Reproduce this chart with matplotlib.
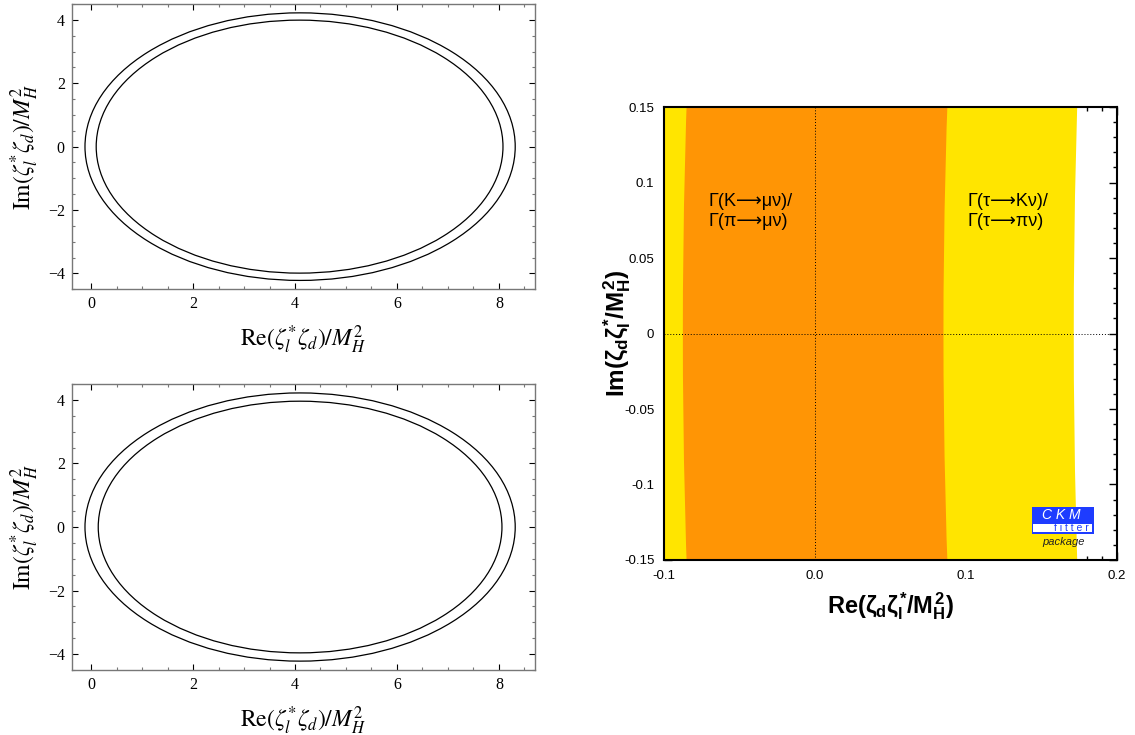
import matplotlib
matplotlib.use('Agg')
import matplotlib.pyplot as plt
from matplotlib.patches import Circle, Annulus, Rectangle
from matplotlib.ticker import MultipleLocator

# ---- left panels: boundary circles in the (Re, Im) plane ----
top_centers = [4.10, 4.09]
top_radii = [4.22, 3.99]
bottom_centers = [4.10, 4.10]
bottom_radii = [4.22, 3.96]

left_xticks = [0, 2, 4, 6, 8]
left_yticks = [-4, -2, 0, 2, 4]

# ---- right panel: allowed bands (annuli centred on the real axis) ----
band_labels = ['Γ(K⟶μν)/\nΓ(π⟶μν)', 'Γ(τ⟶Kν)/\nΓ(τ⟶πν)']
band_centers = [4.5, 5.1]
band_re_min = [-0.0875, -0.14]
band_re_max = [0.0851, 0.1714]
band_colors = ['#ff9505', '#ffe500']
label_x = [-0.0702, 0.1007]
label_y = [0.0807, 0.0807]

right_xticks = [-0.1, 0.0, 0.1, 0.2]
right_xticklabels = ['-0.1', '0.0', '0.1', '0.2']
right_yticks = [-0.15, -0.1, -0.05, 0, 0.05, 0.1, 0.15]
right_yticklabels = ['-0.15', '-0.1', '-0.05', '0', '0.05', '0.1', '0.15']

plt.rcParams['font.family'] = ['Liberation Serif', 'DejaVu Serif']
plt.rcParams['mathtext.rm'] = 'Liberation Sans:bold'
plt.rcParams['mathtext.it'] = 'Liberation Sans:bold'
plt.rcParams['mathtext.bf'] = 'Liberation Sans:bold'
plt.rcParams['mathtext.sf'] = 'Liberation Sans:bold'

fig = plt.figure(figsize=(11.35, 7.35), dpi=100)

ax_top = fig.add_axes([0.0632, 0.6064, 0.4078, 0.3882])
ax_bot = fig.add_axes([0.0632, 0.0884, 0.4078, 0.3891])
ax_r = fig.add_axes([0.585, 0.2381, 0.3991, 0.6163])


def left_panel(ax, centers, radii):
    for c, r in zip(centers, radii):
        ax.add_patch(Circle((c, 0), r, fill=False, ec='black', lw=0.9))
    ax.set_xlim(-0.38, 8.7)
    ax.set_ylim(-4.5, 4.5)
    ax.set_xticks(left_xticks)
    ax.set_yticks(left_yticks)
    ax.xaxis.set_minor_locator(MultipleLocator(0.5))
    ax.yaxis.set_minor_locator(MultipleLocator(0.5))
    ax.tick_params(which='both', direction='in', top=True, right=True,
                   labelsize=11.5, pad=5, width=0.8)
    ax.tick_params(which='major', length=4.5, color='black')
    ax.tick_params(which='minor', length=2.3, color='#777777')
    for sp in ax.spines.values():
        sp.set_color('#777777')
        sp.set_linewidth(1.0)
    ax.set_xlabel(r'$\mathrm{Re}(\zeta_l^{*}\zeta_d)/M_H^2$',
                  math_fontfamily='stix', fontsize=17)
    ax.set_ylabel(r'$\mathrm{Im}(\zeta_l^{*}\zeta_d)/M_H^2$',
                  math_fontfamily='stix', fontsize=17)
    ax.xaxis.set_label_coords(0.5, -0.12)
    ax.yaxis.set_label_coords(-0.066, 0.5)


left_panel(ax_top, top_centers, top_radii)
left_panel(ax_bot, bottom_centers, bottom_radii)

# ---- right panel ----
for i in reversed(range(len(band_centers))):
    c = band_centers[i]
    r_out = c - band_re_min[i]
    r_in = c - band_re_max[i]
    ax_r.add_patch(Annulus((c, 0), r_out, r_out - r_in,
                           facecolor=band_colors[i], edgecolor='none',
                           zorder=1 + (len(band_centers) - i)))

for txt, x, y in zip(band_labels, label_x, label_y):
    ax_r.text(x, y, txt, ha='left', va='center', fontsize=13,
              family=['Liberation Sans', 'DejaVu Sans'], linespacing=1.25,
              zorder=5)

ax_r.axvline(0, color='black', ls=(0, (1, 2)), lw=0.7, zorder=4)
ax_r.axhline(0, color='black', ls=(0, (1, 2)), lw=0.7, zorder=4)

ax_r.set_xlim(-0.1, 0.2)
ax_r.set_ylim(-0.15, 0.15)
ax_r.set_xticks(right_xticks, right_xticklabels, family='Liberation Sans')
ax_r.set_yticks(right_yticks, right_yticklabels, family='Liberation Sans')
ax_r.xaxis.set_minor_locator(MultipleLocator(0.01))
ax_r.yaxis.set_minor_locator(MultipleLocator(0.01))
ax_r.tick_params(which='both', direction='in', top=True, right=True,
                 labelsize=9.5, width=1.0, color='black')
ax_r.tick_params(axis='x', which='both', pad=7)
ax_r.tick_params(axis='y', which='both', pad=7)
ax_r.tick_params(which='major', length=6)
ax_r.tick_params(which='minor', length=3.2)
for sp in ax_r.spines.values():
    sp.set_linewidth(1.5)
    sp.set_zorder(6)

ax_r.set_xlabel(r'$\mathrm{Re}(\zeta_{d}\zeta_{l}^{*}/M_{H}^{2})$',
                math_fontfamily='custom', fontsize=17)
ax_r.set_ylabel(r'$\mathrm{Im}(\zeta_{d}\zeta_{l}^{*}/M_{H}^{2})$',
                math_fontfamily='custom', fontsize=17.5)
ax_r.xaxis.set_label_coords(0.5, -0.068)
ax_r.yaxis.set_label_coords(-0.068, 0.5)

# CKMfitter badge
blue = '#1e3cff'
ax_r.add_patch(Rectangle((0.8117, 0.0567), 0.1373, 0.0603,
                         transform=ax_r.transAxes, facecolor=blue,
                         edgecolor='none', zorder=7))
ax_r.add_patch(Rectangle((0.8153, 0.0610), 0.1300, 0.0190,
                         transform=ax_r.transAxes, facecolor='white',
                         edgecolor='none', zorder=8))
ax_r.text(0.878, 0.0993, 'C K M', transform=ax_r.transAxes, ha='center',
          va='center', color='white', fontsize=10, style='italic',
          family='Liberation Sans', zorder=9)
ax_r.text(0.899, 0.0703, 'f i t t e r', transform=ax_r.transAxes,
          ha='center', va='center', color=blue, fontsize=7.5,
          family='Liberation Sans', zorder=9)
ax_r.text(0.881, 0.0404, 'package', transform=ax_r.transAxes, ha='center',
          va='center', color='#222222', fontsize=8, style='italic',
          family='Liberation Sans', zorder=9)

fig.savefig('out.png', dpi=100)
